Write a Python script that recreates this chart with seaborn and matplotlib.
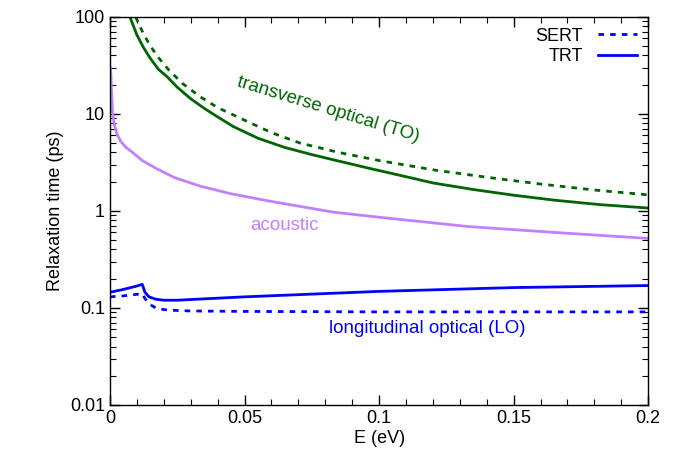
import matplotlib
matplotlib.use("Agg")
import matplotlib.pyplot as plt
import seaborn as sns
from matplotlib.lines import Line2D
from matplotlib.ticker import NullFormatter

plt.rcParams.update({
    'font.family': ['Liberation Sans', 'DejaVu Sans'],
    'xtick.direction': 'in', 'ytick.direction': 'in',
    'xtick.top': True, 'ytick.right': True,
    'xtick.major.size': 7, 'ytick.major.size': 7,
    'xtick.minor.size': 4, 'ytick.minor.size': 4,
    'xtick.major.width': 1, 'ytick.major.width': 1,
    'xtick.minor.width': 0.8, 'ytick.minor.width': 0.8,
    'axes.linewidth': 1.0,
})

E_to_trt = [0.0074, 0.01, 0.0125, 0.015, 0.018, 0.0211, 0.025, 0.03, 0.035, 0.04, 0.0458, 0.055, 0.065, 0.075, 0.083, 0.095, 0.11, 0.12, 0.135, 0.15, 0.165, 0.182, 0.2]
to_trt = [100, 65, 48, 37.2, 28.8, 24.3, 18.8, 14.3, 11.4, 9.3, 7.4, 5.6, 4.5, 3.8, 3.36, 2.8, 2.25, 1.94, 1.66, 1.45, 1.29, 1.16, 1.07]
E_to_sert = [0.0095, 0.0123, 0.015, 0.018, 0.022, 0.027, 0.0335, 0.04, 0.05, 0.06, 0.0706, 0.085, 0.1, 0.12, 0.14, 0.16, 0.18, 0.2]
to_sert = [100, 68, 50, 38, 28, 20.5, 15, 11.6, 8.6, 6.4, 5.0, 4.0, 3.3, 2.65, 2.22, 1.89, 1.64, 1.46]
E_ac = [0.0002, 0.0004, 0.0006, 0.0009, 0.0015, 0.0025, 0.004, 0.006, 0.0086, 0.012, 0.017, 0.024, 0.0335, 0.045, 0.06, 0.083, 0.1, 0.133, 0.165, 0.2]
ac = [30, 24, 17, 11, 8.0, 6.3, 5.2, 4.5, 3.96, 3.3, 2.75, 2.2, 1.8, 1.5, 1.25, 0.97, 0.86, 0.69, 0.6, 0.52]
E_lo = [0.0, 0.005, 0.01, 0.012, 0.013, 0.0145, 0.017, 0.02, 0.025, 0.03, 0.05, 0.1, 0.15, 0.2]
lo_trt = [0.145, 0.155, 0.168, 0.175, 0.145, 0.13, 0.123, 0.12, 0.12, 0.122, 0.13, 0.148, 0.162, 0.17]
lo_sert = [0.13, 0.133, 0.138, 0.14, 0.125, 0.11, 0.1, 0.096, 0.094, 0.093, 0.092, 0.091, 0.091, 0.091]

green = "#006400"
purple = "#c080ff"
blue = "#0000ff"
dash = (0, (2, 2.2))

fig, ax = plt.subplots(figsize=(6.83, 4.66), dpi=100)
sns.lineplot(x=E_to_trt, y=to_trt, ax=ax, color=green, lw=2)
sns.lineplot(x=E_to_sert, y=to_sert, ax=ax, color=green, lw=2, linestyle=dash)
sns.lineplot(x=E_ac, y=ac, ax=ax, color=purple, lw=2)
sns.lineplot(x=E_lo, y=lo_trt, ax=ax, color=blue, lw=2)
sns.lineplot(x=E_lo, y=lo_sert, ax=ax, color=blue, lw=2, linestyle=dash)

ax.set_yscale("log")
ax.set_xlim(0, 0.2)
ax.set_ylim(0.01, 100)
ax.set_xticks([0, 0.05, 0.1, 0.15, 0.2])
ax.set_xticklabels(["0", "0.05", "0.1", "0.15", "0.2"])
ax.set_yticks([0.01, 0.1, 1, 10, 100])
ax.set_yticklabels(["0.01", "0.1", "1", "10", "100"])
ax.set_xticks([i * 0.01 for i in range(21) if i % 5], minor=True)
ax.set_yticks([m * 10.0 ** d for d in range(-2, 2) for m in range(2, 10)], minor=True)
ax.yaxis.set_minor_formatter(NullFormatter())
ax.xaxis.set_minor_formatter(NullFormatter())
ax.tick_params(labelsize=13)
ax.set_xlabel("E (eV)", fontsize=13, labelpad=2)
ax.set_ylabel("Relaxation time (ps)", fontsize=13)

ax.text(0.081, 11, "transverse optical (TO)", color=green, fontsize=13.5, rotation=-17, ha="center", va="center")
ax.text(0.065, 0.7, "acoustic", color=purple, fontsize=13.5, ha="center", va="center")
ax.text(0.118, 0.062, "longitudinal optical (LO)", color=blue, fontsize=13.5, ha="center", va="center")

handles = [Line2D([], [], color=blue, lw=2, linestyle=dash), Line2D([], [], color=blue, lw=2)]
ax.legend(handles, ["SERT", "TRT"], loc="upper right", frameon=False, markerfirst=False,
          fontsize=13, handlelength=2.2, borderaxespad=0.2, labelspacing=0.2)

fig.subplots_adjust(left=0.161, right=0.949, bottom=0.131, top=0.964)
fig.savefig("out.png", dpi=100)
